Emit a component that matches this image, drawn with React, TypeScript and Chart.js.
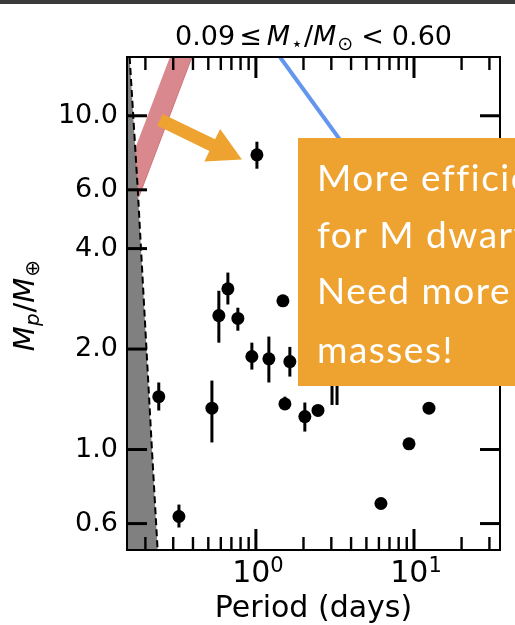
import React, { useEffect, useRef } from "react";
import { Chart, registerables } from "chart.js";

Chart.register(...registerables);

// Planet sample: orbital period (days) and mass (Earth masses) with 1-sigma bounds
const periodDays = [1.015, 0.243, 0.527, 0.583, 0.665, 0.769, 0.943, 1.208, 1.482, 1.64, 1.526, 2.04, 2.47, 3.03, 3.26, 6.18, 9.3, 12.44, 0.326];
const massEarth = [7.64, 1.44, 1.33, 2.52, 3.03, 2.47, 1.9, 1.87, 2.79, 1.835, 1.37, 1.255, 1.31, 2.3, 2.3, 0.689, 1.04, 1.33, 0.63];
const massLow = [6.94, 1.309, 1.05, 2.09, 2.72, 2.27, 1.736, 1.588, 2.79, 1.654, 1.33, 1.132, 1.28, 1.36, 1.36, 0.689, 1.04, 1.33, 0.584];
const massHigh = [8.36, 1.588, 1.609, 2.99, 3.39, 2.66, 2.09, 2.18, 2.79, 2.03, 1.44, 1.383, 1.34, 3.0, 3.0, 0.689, 1.04, 1.33, 0.684];

// Axis ranges and ticks
const xRange = [0.153, 35];
const yRange = [0.5, 15];
const xMajorTicks = [1, 10];
const xMajorExponents = ["0", "1"];
const xMinorTicks = [0.2, 0.3, 0.4, 0.5, 0.6, 0.7, 0.8, 0.9, 2, 3, 4, 5, 6, 7, 8, 9, 20, 30];
const yTicks = [0.6, 1, 2, 4, 6, 10];

// Disruption limit (dashed) – shaded region to its left
const limitP = [0.159, 0.179, 0.22, 0.239];
const limitM = [15, 6, 1, 0.5];

// Iron-composition band
const bandP = [0.286, 0.394, 0.182, 0.132];
const bandM = [15, 15, 5.72, 5.72];

// Detection-limit line
const detP = [1.42, 35];
const detM = [15, 1.85];

// Callout arrow (tail -> tip) and text box
const arrowP = [0.247, 0.816];
const arrowM = [9.73, 7.39];
const boxLeftP = 1.84;
const boxTopM = 8.6;
const boxBottomM = 1.555;
const calloutLines = ["More efficient", "for M dwarfs", "Need more", "masses!"];

const ORANGE = "rgb(238,162,48)";
const SANS = "'DejaVu Sans'";

type Part = { t: string; italic?: boolean; sub?: boolean; gap?: number };

function partFont(p: Part, size: number, subSize: number) {
  return `${p.italic ? "oblique " : ""}${p.sub ? subSize : size}px ${SANS}`;
}

function measureParts(ctx: CanvasRenderingContext2D, parts: Part[], size: number, subSize: number) {
  let w = 0;
  for (const p of parts) {
    ctx.font = partFont(p, size, subSize);
    w += (p.gap || 0) + ctx.measureText(p.t).width;
  }
  return w;
}

function drawParts(ctx: CanvasRenderingContext2D, parts: Part[], x: number, y: number, size: number, subSize: number, subDrop: number) {
  let cx = x;
  ctx.textAlign = "left";
  ctx.textBaseline = "alphabetic";
  for (const p of parts) {
    cx += p.gap || 0;
    ctx.font = partFont(p, size, subSize);
    ctx.fillText(p.t, cx, y + (p.sub ? subDrop : 0));
    cx += ctx.measureText(p.t).width;
  }
}

const titleParts: Part[] = [
  { t: "0.09" },
  { t: "\u2264", gap: 4 },
  { t: "M", italic: true, gap: 5 },
  { t: "\u22C6", sub: true, gap: 1 },
  { t: "/", gap: 1 },
  { t: "M", italic: true },
  { t: "\u2299", sub: true, gap: 1 },
  { t: "<", gap: 8 },
  { t: "0.60", gap: 8 },
];

const yLabelParts: Part[] = [
  { t: "M", italic: true },
  { t: "p", italic: true, sub: true },
  { t: "/", gap: 1 },
  { t: "M", italic: true },
  { t: "\u2295", sub: true, gap: 1 },
];

const framePlugin = {
  id: "frameAndAnnotations",
  beforeDraw(chart: any) {
    const ctx = chart.ctx;
    ctx.save();
    ctx.fillStyle = "#ffffff";
    ctx.fillRect(0, 0, chart.width, chart.height);
    ctx.fillStyle = "#3a3a3a";
    ctx.fillRect(0, 0, chart.width, 4);
    ctx.restore();
  },
  afterDatasetsDraw(chart: any) {
    const ctx = chart.ctx;
    const xs = chart.scales.x;
    const ys = chart.scales.y;
    const a = chart.chartArea;
    ctx.save();
    ctx.beginPath();
    ctx.rect(a.left, a.top, a.right - a.left, a.bottom - a.top);
    ctx.clip();
    ctx.strokeStyle = "#000";
    ctx.lineWidth = 3;
    ctx.lineCap = "butt";
    periodDays.forEach((p, i) => {
      if (massHigh[i] <= massLow[i]) return;
      const x = xs.getPixelForValue(p);
      ctx.beginPath();
      ctx.moveTo(x, ys.getPixelForValue(massLow[i]));
      ctx.lineTo(x, ys.getPixelForValue(massHigh[i]));
      ctx.stroke();
    });
    ctx.restore();
  },
  afterDraw(chart: any) {
    const ctx: CanvasRenderingContext2D = chart.ctx;
    const xs = chart.scales.x;
    const ys = chart.scales.y;
    const a = chart.chartArea;
    ctx.save();

    // frame
    ctx.strokeStyle = "#000";
    ctx.lineWidth = 2;
    ctx.strokeRect(a.left, a.top, a.right - a.left, a.bottom - a.top);

    // inward ticks on all four sides
    ctx.lineCap = "butt";
    const tick = (x1: number, y1: number, x2: number, y2: number, w: number) => {
      ctx.lineWidth = w;
      ctx.beginPath();
      ctx.moveTo(x1, y1);
      ctx.lineTo(x2, y2);
      ctx.stroke();
    };
    xMinorTicks.forEach((v) => {
      const x = xs.getPixelForValue(v);
      tick(x, a.bottom, x, a.bottom - 13, 2.4);
      tick(x, a.top, x, a.top + 13, 2.4);
    });
    xMajorTicks.forEach((v) => {
      const x = xs.getPixelForValue(v);
      tick(x, a.bottom, x, a.bottom - 21, 3);
      tick(x, a.top, x, a.top + 21, 3);
    });
    yTicks.forEach((v) => {
      const y = ys.getPixelForValue(v);
      tick(a.left, y, a.left + 20, y, 3);
      tick(a.right, y, a.right - 20, y, 3);
    });

    // x tick labels as powers of ten
    ctx.fillStyle = "#000";
    xMajorTicks.forEach((v, i) => {
      const parts: Part[] = [{ t: "10" }, { t: xMajorExponents[i], sub: true }];
      const w = measureParts(ctx, parts, 30, 21);
      drawParts(ctx, parts, xs.getPixelForValue(v) - w / 2 + 2, 582, 30, 21, -10);
    });

    // axis titles
    ctx.font = `30px ${SANS}`;
    ctx.textAlign = "center";
    ctx.textBaseline = "alphabetic";
    const midX = (a.left + a.right) / 2;
    ctx.fillText("Period (days)", midX, 617);

    const ylw = measureParts(ctx, yLabelParts, 29, 20);
    ctx.save();
    ctx.translate(34, (a.top + a.bottom) / 2 + 2);
    ctx.rotate(-Math.PI / 2);
    drawParts(ctx, yLabelParts, -ylw / 2, 0, 29, 20, 5);
    ctx.restore();

    const tw = measureParts(ctx, titleParts, 27, 19);
    drawParts(ctx, titleParts, midX - tw / 2, 45, 27, 19, 5);

    // callout arrow
    const x0 = xs.getPixelForValue(arrowP[0]);
    const y0 = ys.getPixelForValue(arrowM[0]);
    const x1 = xs.getPixelForValue(arrowP[1]);
    const y1 = ys.getPixelForValue(arrowM[1]);
    const len = Math.hypot(x1 - x0, y1 - y0);
    const ux = (x1 - x0) / len;
    const uy = (y1 - y0) / len;
    const nx = -uy;
    const ny = ux;
    const headLen = 33;
    const headHalf = 18;
    const shaftHalf = 6.5;
    const bx = x1 - ux * headLen;
    const by = y1 - uy * headLen;
    ctx.fillStyle = ORANGE;
    ctx.beginPath();
    ctx.moveTo(x0 + nx * shaftHalf, y0 + ny * shaftHalf);
    ctx.lineTo(bx + nx * shaftHalf, by + ny * shaftHalf);
    ctx.lineTo(bx + nx * headHalf, by + ny * headHalf);
    ctx.lineTo(x1, y1);
    ctx.lineTo(bx - nx * headHalf, by - ny * headHalf);
    ctx.lineTo(bx - nx * shaftHalf, by - ny * shaftHalf);
    ctx.lineTo(x0 - nx * shaftHalf, y0 - ny * shaftHalf);
    ctx.closePath();
    ctx.fill();

    // callout box
    const bl = Math.round(xs.getPixelForValue(boxLeftP));
    const bt = Math.round(ys.getPixelForValue(boxTopM));
    const bb = Math.round(ys.getPixelForValue(boxBottomM));
    ctx.fillStyle = ORANGE;
    ctx.fillRect(bl, bt, chart.width - bl, bb - bt);
    ctx.fillStyle = "#ffffff";
    ctx.font = "37px Lato";
    ctx.textAlign = "left";
    ctx.textBaseline = "alphabetic";
    (ctx as any).letterSpacing = "1.5px";
    const baselines = [53, 110, 166, 225];
    calloutLines.forEach((line, i) => {
      ctx.fillText(line, bl + 19, bt + baselines[i]);
    });
    ctx.restore();
  },
};

export default function App() {
  const canvasRef = useRef<HTMLCanvasElement | null>(null);

  useEffect(() => {
    const canvas = canvasRef.current;
    if (!canvas) return;

    const points = periodDays.map((p, i) => ({ x: p, y: massEarth[i] }));
    const limitLine = limitP.map((p, i) => ({ x: p, y: limitM[i] }));
    const shaded = [{ x: 0.1, y: limitM[0] }, ...limitLine, { x: 0.1, y: limitM[limitM.length - 1] }];
    const band = bandP.map((p, i) => ({ x: p, y: bandM[i] }));
    const detLine = detP.map((p, i) => ({ x: p, y: detM[i] }));

    const chart = new Chart(canvas, {
      type: "scatter",
      data: {
        datasets: [
          {
            data: points,
            backgroundColor: "#000",
            borderWidth: 0,
            pointRadius: 6.5,
            order: 0,
          },
          {
            data: detLine,
            showLine: true,
            borderColor: "rgb(100,150,238)",
            borderWidth: 4,
            pointRadius: 0,
            order: 1,
          },
          {
            data: limitLine,
            showLine: true,
            borderColor: "#000",
            borderWidth: 2,
            borderDash: [7, 4],
            pointRadius: 0,
            order: 2,
          },
          {
            data: shaded,
            showLine: true,
            fill: "shape",
            backgroundColor: "#808080",
            borderWidth: 0,
            pointRadius: 0,
            order: 3,
          },
          {
            data: band,
            showLine: true,
            fill: "shape",
            backgroundColor: "rgb(217,137,141)",
            borderColor: "rgb(205,115,120)",
            borderWidth: 1,
            pointRadius: 0,
            order: 4,
          },
        ] as any,
      },
      options: {
        responsive: false,
        animation: false,
        devicePixelRatio: 1,
        layout: { padding: { top: 57, right: 15, left: 0, bottom: 0 } },
        plugins: { legend: { display: false }, tooltip: { enabled: false } },
        scales: {
          x: {
            type: "logarithmic",
            min: xRange[0],
            max: xRange[1],
            ticks: { display: false },
            grid: { display: false, drawTicks: false },
            border: { display: false },
            afterFit: (s: any) => {
              s.height = 75;
            },
          },
          y: {
            type: "logarithmic",
            min: yRange[0],
            max: yRange[1],
            afterBuildTicks: (s: any) => {
              s.ticks = yTicks.map((v) => ({ value: v }));
            },
            ticks: {
              autoSkip: false,
              padding: 9,
              color: "#000",
              font: { family: "DejaVu Sans", size: 27 },
              callback: (v: any) => Number(v).toFixed(1),
            },
            grid: { display: false, drawTicks: false },
            border: { display: false },
            afterFit: (s: any) => {
              s.width = 127;
            },
          },
        },
      } as any,
      plugins: [framePlugin],
    });

    return () => chart.destroy();
  }, []);

  return (
    <div style={{ position: "fixed", left: 0, top: 0, width: 515, height: 625, overflow: "hidden", background: "#fff" }}>
      <canvas ref={canvasRef} width={515} height={625} style={{ display: "block" }} />
    </div>
  );
}
